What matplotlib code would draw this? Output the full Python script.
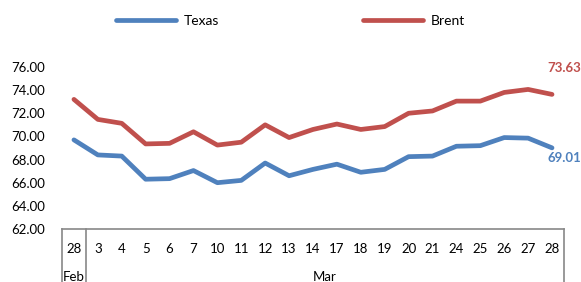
import matplotlib
matplotlib.use("Agg")
import matplotlib.pyplot as plt
from matplotlib.lines import Line2D

plt.rcParams['font.family'] = ['Lato', 'DejaVu Sans']

# data
days = ['28', '3', '4', '5', '6', '7', '10', '11', '12', '13', '14',
        '17', '18', '19', '20', '21', '24', '25', '26', '27', '28']
months = ['Feb', 'Mar']
month_len = [1, 20]
texas = [69.70, 68.40, 68.30, 66.30, 66.35, 67.05, 66.00, 66.20, 67.70, 66.60, 67.15,
         67.60, 66.90, 67.15, 68.25, 68.30, 69.15, 69.20, 69.90, 69.85, 69.01]
brent = [73.20, 71.47, 71.13, 69.35, 69.40, 70.40, 69.25, 69.50, 71.00, 69.90, 70.60,
         71.07, 70.60, 70.85, 72.00, 72.20, 73.05, 73.05, 73.80, 74.06, 73.63]

c_texas = '#4F81BD'
c_brent = '#C0504D'
c_axis = '#888888'

fig = plt.figure(figsize=(5.81, 2.82), dpi=100)
ax = fig.add_axes([0.1067, 0.188, 0.864, 0.5745])

x = list(range(len(days)))
ax.plot(x, texas, color=c_texas, lw=3.4, solid_capstyle='round', solid_joinstyle='round', label='Texas')
ax.plot(x, brent, color=c_brent, lw=3.4, solid_capstyle='round', solid_joinstyle='round', label='Brent')

ax.set_xlim(-0.5, len(days) - 0.5)
ax.set_ylim(62, 76)
ax.set_yticks([62, 64, 66, 68, 70, 72, 74, 76])
ax.set_yticklabels(['%.2f' % v for v in ax.get_yticks()])
ax.set_xticks(x)
ax.set_xticklabels(days)
ax.tick_params(axis='both', length=0, labelsize=9.5, colors='black')
ax.tick_params(axis='y', pad=12)
ax.tick_params(axis='x', pad=10)

for s in ['top', 'right', 'left']:
    ax.spines[s].set_visible(False)
ax.spines['bottom'].set_color(c_axis)
ax.spines['bottom'].set_linewidth(1.2)

# multi-level category box
tr = ax.get_xaxis_transform()
edges = [-0.5]
for n in month_len:
    edges.append(edges[-1] + n)
for e in edges:
    ax.add_line(Line2D([e, e], [0, -0.4], transform=tr, color=c_axis, lw=1.2, clip_on=False))
start = -0.5
for m, n in zip(months, month_len):
    ax.text(start + n / 2, -0.296, m, transform=tr, ha='center', va='center', fontsize=9.5)
    start += n

# end labels
ax.annotate('%.2f' % brent[-1], (x[-1], brent[-1]), xytext=(9, 19), textcoords='offset points',
            ha='center', va='center', fontsize=9.5, fontweight='bold', color=c_brent, annotation_clip=False)
ax.annotate('%.2f' % texas[-1], (x[-1], texas[-1]), xytext=(9, -7), textcoords='offset points',
            ha='center', va='center', fontsize=9.5, fontweight='bold', color=c_texas, annotation_clip=False)

fig.legend(loc='center', bbox_to_anchor=(0.5, 0.925), ncol=2, frameon=False, fontsize=10,
           handlelength=4.3, handletextpad=0.55, columnspacing=10.4)

fig.savefig('out.png', dpi=100)
